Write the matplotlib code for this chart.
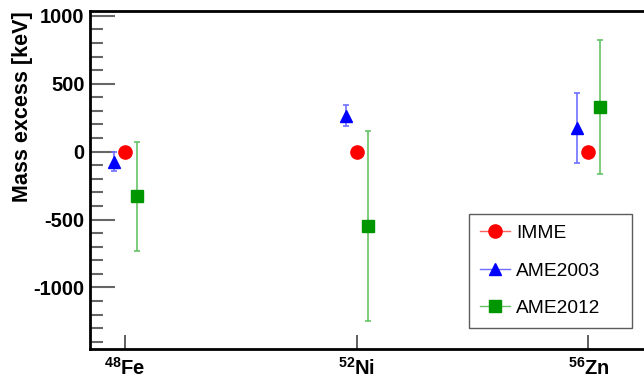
import matplotlib
matplotlib.use("Agg")
import matplotlib.pyplot as plt
import numpy as np

plt.rcParams['font.family'] = ['Liberation Sans', 'DejaVu Sans']
plt.rcParams['mathtext.fontset'] = 'custom'
plt.rcParams['mathtext.rm'] = 'Liberation Sans'
plt.rcParams['mathtext.bf'] = 'Liberation Sans:bold'

# nuclei and mass excess values (keV)
nuclei = [r'$^{\mathbf{48}}$Fe', r'$^{\mathbf{52}}$Ni', r'$^{\mathbf{56}}$Zn']
imme = [0, 0, 0]
ame2003 = [-75, 265, 175]
ame2003_err = [70, 80, 260]
ame2012 = [-330, -550, 330]
ame2012_err = [400, 700, 495]

x = np.arange(len(nuclei))

fig = plt.figure(figsize=(6.44, 3.81), dpi=100)
ax = fig.add_axes([90/644, 1 - 349/381, 1 - 90/644, (349 - 11)/381])

ax.errorbar(x - 0.048, ame2003, yerr=ame2003_err, fmt='none', ecolor='#6f6fff',
            elinewidth=1.2, capsize=2.5, capthick=1.2)
ax.errorbar(x + 0.05, ame2012, yerr=ame2012_err, fmt='none', ecolor='#66c266',
            elinewidth=1.2, capsize=2.5, capthick=1.2)

ax.plot(x, imme, 'o', color='#ff0000', ms=9.5, zorder=5)
ax.plot(x - 0.048, ame2003, '^', color='#0000ff', ms=9, zorder=5)
ax.plot(x + 0.05, ame2012, 's', color='#009600', ms=9, zorder=5)

# legend handles: light line through a solid marker
h1, = ax.plot([], [], '-o', color='#ff6060', mfc='#ff0000', mec='#ff0000',
              ms=9.5, lw=1, label='IMME')
h2, = ax.plot([], [], '-^', color='#6f6fff', mfc='#0000ff', mec='#0000ff',
              ms=9, lw=1, label='AME2003')
h3, = ax.plot([], [], '-s', color='#66c266', mfc='#009600', mec='#009600',
              ms=9, lw=1, label='AME2012')

leg = fig.legend(handles=[h1, h2, h3], loc='upper left',
                 bbox_to_anchor=(469/644, 1 - 214/381 - 0.01, 163/644, 0.01),
                 mode='expand', fontsize=13.8,
                 frameon=True, fancybox=False, edgecolor='#333333',
                 borderpad=0.55, labelspacing=1.05, handlelength=1.6,
                 handletextpad=0.3, borderaxespad=0)
leg.get_frame().set_linewidth(1.0)

ax.set_xlim(-0.151, 2.24)
ax.set_ylim(-1453, 1035)

ax.set_yticks([-1000, -500, 0, 500, 1000])
ax.set_yticklabels(['-1000', '-500', '0', '500', '1000'], fontsize=14.5, fontweight='bold')
ax.set_yticks(np.arange(-1400, 1001, 100), minor=True)
ax.tick_params(axis='y', which='major', direction='in', length=18, width=1.5,
               color='#666666', pad=4)
ax.tick_params(axis='y', which='minor', direction='in', length=9, width=1.5,
               color='#666666')

ax.set_xticks(x)
ax.set_xticklabels(nuclei, fontsize=14.5, fontweight='bold')
ax.tick_params(axis='x', which='major', direction='in', length=10, width=1.2,
               color='#444444', pad=6)

ax.set_ylabel('Mass excess [keV]', fontsize=15.5, fontweight='bold', ha='right', y=1.0)
ax.yaxis.set_label_coords(-0.102, 1.0)

for side in ('left', 'bottom', 'top'):
    ax.spines[side].set_linewidth(2)
ax.spines['right'].set_visible(False)

fig.savefig('out.png', dpi=100)
